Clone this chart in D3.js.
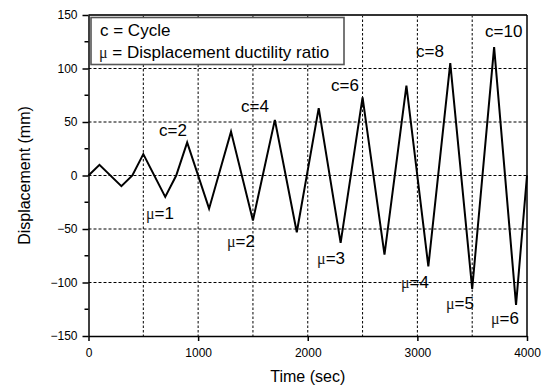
<!DOCTYPE html>
<html>
<head>
<meta charset="utf-8">
<script src="https://cdn.jsdelivr.net/npm/d3@7"></script>
<style>
  body { margin: 0; background: #fff; }
  text, tspan { font-family: "Liberation Sans", Arial, sans-serif; fill: #000; }
  tspan.mu { font-family: "Liberation Serif", "DejaVu Serif", serif; fill: #222; }
</style>
</head>
<body>
<div class="chart"></div>
<script>
// time (sec) and displacement (mm) of the loading history
var times = [0, 100, 300, 400, 500, 700, 800, 900, 1100, 1300, 1500, 1700, 1900,
             2100, 2300, 2500, 2700, 2900, 3100, 3300, 3500, 3700, 3900, 4000];
var disps = [0, 10, -10, 0, 20, -20, 0, 31, -31, 41, -42, 52, -53,
             63, -63, 73, -74, 84, -85, 105, -106, 120, -121, 0];

var xTicks = [0, 1000, 2000, 3000, 4000];
var xGrid = [500, 1000, 1500, 2000, 2500, 3000, 3500];
var yTicks = [-150, -100, -50, 0, 50, 100, 150];
var yMinor = [-125, -75, -25, 25, 75, 125];
var yGrid = [-100, -50, 0, 50, 100];

// annotations: text, time, displacement (where the text sits)
var cycleLabels = ["c=2", "c=4", "c=6", "c=8", "c=10"];
var cycleT = [643, 1391, 2212, 2988, 3617];
var cycleD = [37, 59, 79, 111, 129];
var muLabels = ["=1", "=2", "=3", "=4", "=5", "=6"];
var muT = [524, 1263, 2085, 2851, 3261, 3672];
var muD = [-41, -67, -83, -105, -125, -139];

var W = 545, H = 387;
var pLeft = 88.5, pRight = 527, pTop = 15, pBottom = 336;

var svg = d3.select(".chart").append("svg")
            .attr("width", W)
            .attr("height", H);

var x = d3.scaleLinear().domain([0, 4000]).range([pLeft, pRight]);
var y = d3.scaleLinear().domain([-150, 150]).range([pBottom, pTop]);

/**
 * grid
 */
svg.append("g").selectAll("line")
   .data(xGrid).enter().append("line")
   .attr("x1", function(d) { return x(d); })
   .attr("x2", function(d) { return x(d); })
   .attr("y1", pTop).attr("y2", pBottom)
   .attr("stroke", "#000").attr("stroke-width", 1)
   .attr("stroke-dasharray", "2.5,2");

svg.append("g").selectAll("line")
   .data(yGrid).enter().append("line")
   .attr("y1", function(d) { return y(d); })
   .attr("y2", function(d) { return y(d); })
   .attr("x1", pLeft).attr("x2", pRight)
   .attr("stroke", "#000").attr("stroke-width", 1)
   .attr("stroke-dasharray", "3,2");

/**
 * legend box
 */
svg.append("rect")
   .attr("x", 91).attr("y", 17.5)
   .attr("width", 253).attr("height", 47)
   .attr("fill", "#fff")
   .attr("stroke", "#555").attr("stroke-width", 1.6);

svg.append("text")
   .attr("x", 100).attr("y", 36)
   .style("font-size", "17px")
   .text("c = Cycle");

var lg = svg.append("text")
   .attr("x", 99).attr("y", 57.5)
   .style("font-size", "17px");
lg.append("tspan").attr("class", "mu").style("font-size", "16px").text("\u03bc");
lg.append("tspan").text(" = Displacement ductility ratio");

/**
 * the curve
 */
var line = d3.line()
             .x(function(d, i) { return x(times[i]); })
             .y(function(d) { return y(d); });

svg.append("path")
   .datum(disps)
   .attr("d", line)
   .attr("fill", "none")
   .attr("stroke", "#000")
   .attr("stroke-width", 2)
   .attr("stroke-linejoin", "miter");

/**
 * annotations
 */
svg.append("g").selectAll("text")
   .data(cycleLabels).enter().append("text")
   .attr("x", function(d, i) { return x(cycleT[i]); })
   .attr("y", function(d, i) { return y(cycleD[i]); })
   .style("font-size", "17px")
   .text(function(d) { return d; });

var mus = svg.append("g").selectAll("text")
   .data(muLabels).enter().append("text")
   .attr("x", function(d, i) { return x(muT[i]); })
   .attr("y", function(d, i) { return y(muD[i]); })
   .style("font-size", "17px");
mus.append("tspan").attr("class", "mu").style("font-size", "16px").text("\u03bc");
mus.append("tspan").text(function(d) { return d; });

/**
 * frame and axes
 */
svg.append("line")
   .attr("x1", pLeft).attr("x2", pRight).attr("y1", pTop).attr("y2", pTop)
   .attr("stroke", "#333").attr("stroke-width", 2);
svg.append("line")
   .attr("x1", pRight).attr("x2", pRight).attr("y1", pTop).attr("y2", pBottom)
   .attr("stroke", "#000").attr("stroke-width", 1.5);

var xAxis = d3.axisBottom(x)
              .tickValues(xTicks)
              .tickFormat(d3.format("d"))
              .tickSize(5)
              .tickPadding(7)
              .tickSizeOuter(0);

var yAxis = d3.axisLeft(y)
              .tickValues(yTicks)
              .tickFormat(d3.format("d"))
              .tickSize(6)
              .tickPadding(5)
              .tickSizeOuter(0);

var gx = svg.append("g")
   .attr("transform", "translate(0," + pBottom + ")")
   .call(xAxis);

var gy = svg.append("g")
   .attr("transform", "translate(" + pLeft + ",0)")
   .call(yAxis);

gy.append("g").selectAll("line")
  .data(yMinor).enter().append("line")
  .attr("x1", -4).attr("x2", 0)
  .attr("y1", function(d) { return y(d); })
  .attr("y2", function(d) { return y(d); })
  .attr("stroke", "#000").attr("stroke-width", 1.5);

[gx, gy].forEach(function(g) {
  g.select(".domain").attr("stroke", "#000").attr("stroke-width", 1.5);
  g.selectAll(".tick line").attr("stroke", "#000").attr("stroke-width", 1.5);
  g.selectAll(".tick text")
   .style("font-family", "Liberation Sans, Arial, sans-serif")
   .style("font-size", "12px")
   .attr("fill", "#000");
});

/**
 * axis titles
 */
svg.append("text")
   .attr("x", (pLeft + pRight) / 2)
   .attr("y", 382)
   .attr("text-anchor", "middle")
   .style("font-size", "16px")
   .text("Time (sec)");

svg.append("text")
   .attr("transform", "translate(30," + ((pTop + pBottom) / 2) + ") rotate(-90)")
   .attr("text-anchor", "middle")
   .style("font-size", "16px")
   .text("Displacement (mm)");
</script>
</body>
</html>
